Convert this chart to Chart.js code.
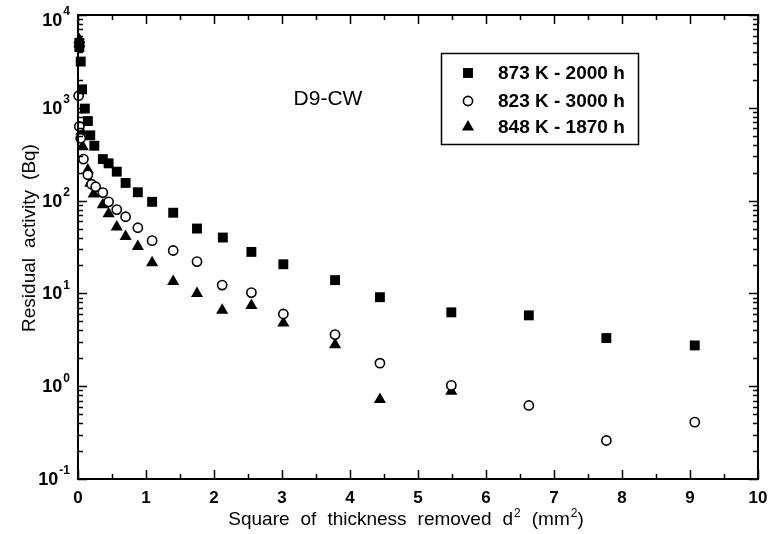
<!DOCTYPE html>
<html>
<head>
<meta charset="utf-8">
<script src="https://cdn.jsdelivr.net/npm/chart.js@4.4.1/dist/chart.umd.min.js"></script>
<style>
  html, body { margin: 0; padding: 0; background: #fff; }
  #wrap { width: 769px; height: 534px; }
</style>
</head>
<body>
<div id="wrap"><canvas id="residualChart" width="769" height="534"></canvas></div>
<script>
// series: 873 K - 2000 h (filled squares)
const xSquare = [0.02, 0.02, 0.04, 0.06, 0.10, 0.145, 0.18, 0.24, 0.365, 0.45, 0.57, 0.70, 0.88, 1.09, 1.40, 1.75, 2.13, 2.55, 3.02, 3.78, 4.44, 5.49, 6.63, 7.77, 9.07];
const ySquare = [5000, 4500, 3150, 1580, 980, 720, 505, 390, 280, 252, 205, 155, 123, 97, 74, 50, 40, 28, 20.6, 13.9, 9.1, 6.25, 5.8, 3.3, 2.75];

// series: 823 K - 3000 h (open circles)
const xCircle = [0.01, 0.02, 0.04, 0.08, 0.145, 0.20, 0.26, 0.365, 0.45, 0.57, 0.70, 0.88, 1.09, 1.40, 1.75, 2.12, 2.55, 3.02, 3.78, 4.44, 5.49, 6.63, 7.77, 9.07];
const yCircle = [1350, 630, 470, 280, 190, 150, 141, 122, 97, 80, 67, 51, 37, 29, 22, 12.3, 10.2, 6.0, 3.6, 1.77, 1.02, 0.62, 0.26, 0.41];

// series: 848 K - 1870 h (filled triangles)
const xTriangle = [0.02, 0.02, 0.05, 0.07, 0.145, 0.18, 0.23, 0.365, 0.45, 0.57, 0.70, 0.88, 1.09, 1.40, 1.75, 2.12, 2.55, 3.02, 3.78, 4.44, 5.49];
const yTriangle = [5400, 4900, 560, 381, 214, 154, 118, 90, 72, 52, 41, 32, 21.4, 13.4, 10, 6.6, 7.4, 4.8, 2.8, 0.72, 0.88];

const seriesLabels = ["873 K - 2000 h", "823 K - 3000 h", "848 K - 1870 h"];
const xTicks = [0, 1, 2, 3, 4, 5, 6, 7, 8, 9, 10];
const yExponents = [-1, 0, 1, 2, 3, 4];

const toPoints = (xs, ys) => xs.map((x, i) => ({ x: x, y: ys[i] }));

const narrow = "'Liberation Sans Narrow', 'Liberation Sans', Arial, sans-serif";
const sans = "'Liberation Sans', Arial, sans-serif";

// draws a run of [text, isSuperscript] pieces centred on 0,0 (after transform)
function drawRich(ctx, pieces, size, gap) {
  const supSize = Math.round(size * 0.65);
  const parts = pieces.map(([t, sup]) => {
    ctx.font = (sup ? supSize : size) + "px " + narrow;
    return { t, sup, w: ctx.measureText(t).width };
  });
  let total = 0;
  parts.forEach((p) => { total += p.t === " " ? gap : p.w; });
  let x = -total / 2;
  const base = size * 0.36;
  ctx.textAlign = "left";
  ctx.textBaseline = "alphabetic";
  parts.forEach((p) => {
    if (p.t === " ") { x += gap; return; }
    ctx.font = (p.sup ? supSize : size) + "px " + narrow;
    ctx.fillText(p.t, x + (p.sup ? 1 : 0), p.sup ? base - size * 0.42 : base);
    x += p.w + (p.sup ? 1 : 0);
  });
}

// frame, inward ticks, y labels, axis titles, legend and annotation
const framePlugin = {
  id: "frame",
  afterDraw(chart) {
    const ctx = chart.ctx;
    const a = chart.chartArea;
    const xs = chart.scales.x;
    const ys = chart.scales.y;
    ctx.save();
    ctx.strokeStyle = "#000";
    ctx.lineWidth = 2;
    ctx.strokeRect(a.left, a.top, a.right - a.left, a.bottom - a.top);

    ctx.lineWidth = 1.5;
    ctx.beginPath();
    for (let v = 0; v <= 10; v += 0.5) {
      const px = Math.round(xs.getPixelForValue(v)) + 0.5;
      const len = Number.isInteger(v) ? 9 : 5;
      ctx.moveTo(px, a.bottom); ctx.lineTo(px, a.bottom - len);
      ctx.moveTo(px, a.top); ctx.lineTo(px, a.top + len);
    }
    for (let e = -1; e <= 3; e++) {
      for (let m = 1; m <= 10; m++) {
        const v = m * Math.pow(10, e);
        const py = Math.round(ys.getPixelForValue(v)) + 0.5;
        const len = (m === 1 || m === 10) ? 9 : 5;
        ctx.moveTo(a.left, py); ctx.lineTo(a.left + len, py);
        ctx.moveTo(a.right, py); ctx.lineTo(a.right - len, py);
      }
    }
    ctx.stroke();

    // y tick labels 10^n
    ctx.fillStyle = "#000";
    ctx.textBaseline = "middle";
    yExponents.forEach((e) => {
      let py = ys.getPixelForValue(Math.pow(10, e));
      py = Math.max(py, 20);
      const exp = String(e);
      ctx.font = "bold 12px " + sans;
      const ew = ctx.measureText(exp).width;
      ctx.textAlign = "right";
      ctx.fillText(exp, a.left - 8, py - 8);
      ctx.font = "bold 18px " + narrow;
      ctx.fillText("10", a.left - 8 - ew - 1, py + 1);
    });

    // axis titles
    ctx.save();
    ctx.translate(405, 518);
    drawRich(ctx, [["Square"], [" "], ["of"], [" "], ["thickness"], [" "], ["removed"], [" "], ["d"], ["2", true], [" "], ["(mm"], ["2", true], [")"]], 19, 11);
    ctx.restore();
    ctx.save();
    ctx.translate(28, 238);
    ctx.rotate(-Math.PI / 2);
    drawRich(ctx, [["Residual"], [" "], ["activity"], [" "], ["(Bq)"]], 19, 10);
    ctx.restore();

    // annotation
    ctx.font = "21px " + sans;
    ctx.textAlign = "center";
    ctx.textBaseline = "middle";
    ctx.fillText("D9-CW", 328, 99);

    // legend
    ctx.lineWidth = 1.5;
    ctx.strokeRect(441.5, 53.5, 197, 91);
    const rows = [73, 101, 127];
    chart.data.datasets.forEach((ds, i) => {
      ctx.fillStyle = ds.pointBackgroundColor;
      ctx.strokeStyle = ds.pointBorderColor;
      ctx.lineWidth = ds.pointBorderWidth;
      Chart.helpers.drawPoint(ctx, { pointStyle: ds.pointStyle, radius: ds.pointRadius, borderWidth: ds.pointBorderWidth }, 468, rows[i]);
      ctx.fillStyle = "#000";
      ctx.font = "bold 19px " + sans;
      ctx.textAlign = "left";
      ctx.fillText(seriesLabels[i], 498, rows[i] + 1);
    });
    ctx.restore();
  }
};

const ctx = document.getElementById("residualChart").getContext("2d");
new Chart(ctx, {
  type: "scatter",
  data: {
    datasets: [
      {
        label: seriesLabels[0],
        data: toPoints(xSquare, ySquare),
        pointStyle: "rect",
        pointRadius: 7,
        pointBackgroundColor: "#000",
        pointBorderColor: "#000",
        pointBorderWidth: 0,
      },
      {
        label: seriesLabels[1],
        data: toPoints(xCircle, yCircle),
        pointStyle: "circle",
        pointRadius: 4.6,
        pointBackgroundColor: "#fff",
        pointBorderColor: "#000",
        pointBorderWidth: 1.6,
      },
      {
        label: seriesLabels[2],
        data: toPoints(xTriangle, yTriangle),
        pointStyle: "triangle",
        pointRadius: 7,
        pointBackgroundColor: "#000",
        pointBorderColor: "#000",
        pointBorderWidth: 0,
      },
    ],
  },
  options: {
    responsive: false,
    animation: false,
    clip: false,
    layout: { padding: { top: 15, right: 11, left: 0, bottom: 0 } },
    plugins: {
      legend: { display: false },
      tooltip: { enabled: false },
    },
    scales: {
      x: {
        type: "linear",
        min: 0,
        max: 10,
        afterFit: (s) => { s.height = 55; s.paddingLeft = 0; s.paddingRight = 0; },
        afterBuildTicks: (s) => { s.ticks = xTicks.map((v) => ({ value: v })); },
        grid: { display: false, drawTicks: false },
        border: { display: false },
        ticks: {
          color: "#000",
          padding: 9,
          font: { family: narrow, size: 17, weight: "bold" },
          maxRotation: 0,
        },
        title: { display: false },
      },
      y: {
        type: "logarithmic",
        min: 0.1,
        max: 10000,
        afterFit: (s) => { s.width = 78; },
        grid: { display: false, drawTicks: false },
        border: { display: false },
        ticks: { display: false },
        title: { display: false },
      },
    },
  },
  plugins: [framePlugin],
});
</script>
</body>
</html>
